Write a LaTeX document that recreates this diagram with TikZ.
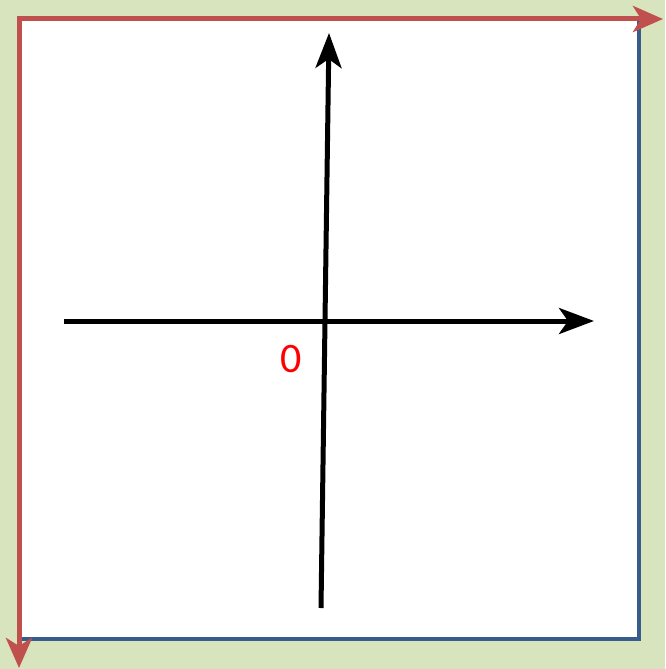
\documentclass[tikz,border=0pt]{standalone}
\usepackage{fontspec}
\newfontfamily\labelfont{Carlito}
\usetikzlibrary{arrows.meta}
\definecolor{bgcol}{HTML}{D7E4BD}
\definecolor{framecol}{HTML}{C0504D}
\definecolor{edgecol}{HTML}{385D8A}
\tikzset{
  axisline/.style={line width=5pt,-{Stealth[length=35pt,width=26pt,inset=9pt]}},
  frameline/.style={framecol,line width=5pt,line cap=rect,-{Stealth[length=30pt,width=26pt,inset=8pt]}},
  edgeline/.style={edgecol,line width=4.5pt,line join=miter}
}

\begin{document}
\begin{tikzpicture}[x=1pt,y=-1pt]
\useasboundingbox (0,0) rectangle (665,669);
\fill[bgcol] (0,0) rectangle (665,669);
\fill[white] (19,19) rectangle (639,639);

% corner points of the frame
\coordinate (origin) at (19,19);
\coordinate (topend) at (663,19);
\coordinate (leftend) at (19,668);
\coordinate (botleft) at (21,639);
\coordinate (botright) at (639,639);
\coordinate (topright) at (639,21);

\draw[edgeline] (botleft) -- (botright) -- (topright);
\draw[frameline] (origin) -- (topend);
\draw[frameline] (origin) -- (leftend);

% axes
\coordinate (xstart) at (64,321);
\coordinate (xend) at (594,321);
\coordinate (ystart) at (321,608);
\coordinate (yend) at (329,33);
\draw[axisline] (xstart) -- (xend);
\draw[axisline] (ystart) -- (yend);

\node[font=\labelfont\fontsize{42}{42}\selectfont,text=red,inner sep=0pt] (zero) at (291,359) {0};
\end{tikzpicture}
\end{document}
